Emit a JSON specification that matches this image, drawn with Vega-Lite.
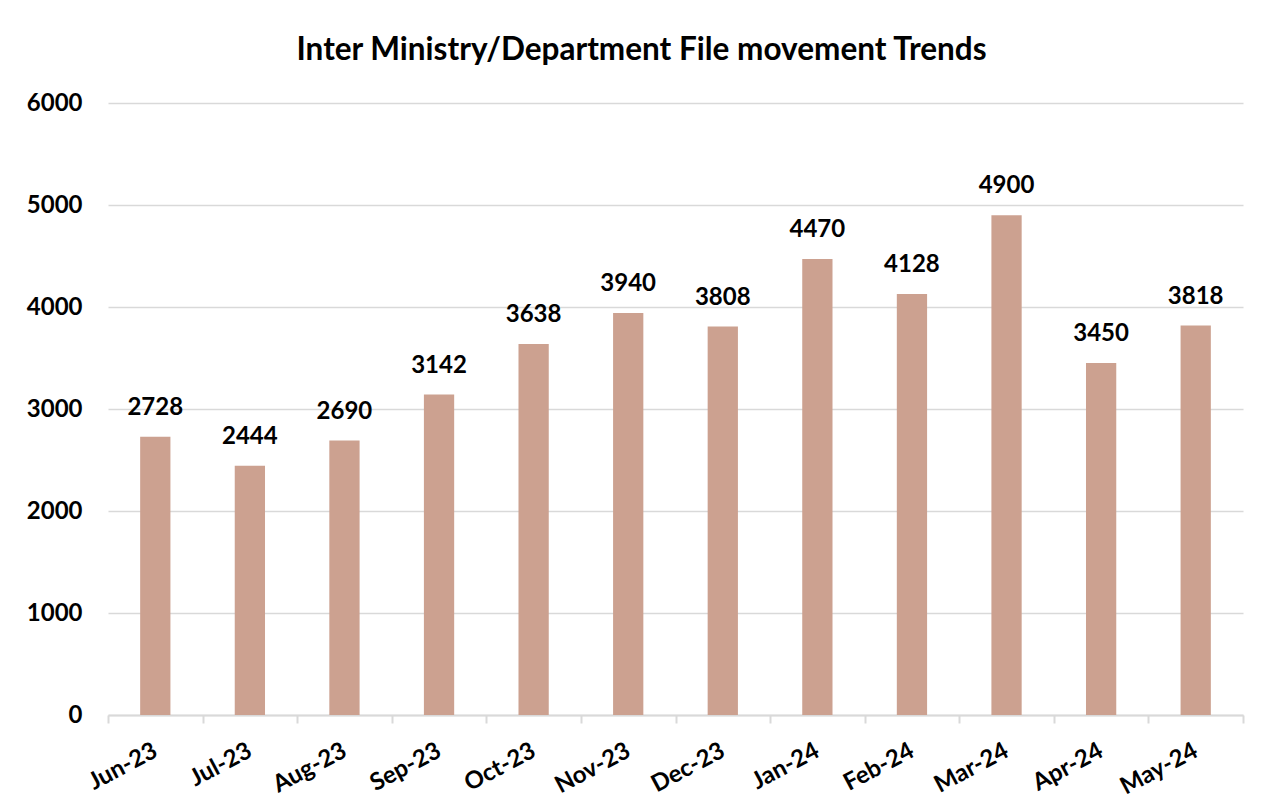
{
  "$schema": "https://vega.github.io/schema/vega-lite/v6.json",
  "autosize": "none",
  "width": 1135,
  "height": 612,
  "padding": {"left": 108, "top": 103, "right": 29, "bottom": 97},
  "background": "white",
  "title": {
    "text": "Inter Ministry/Department File movement Trends",
    "font": "Lato",
    "fontWeight": "bold",
    "fontSize": 31.5,
    "color": "black",
    "anchor": "middle",
    "dx": -34,
    "offset": 25
  },
  "data": {
    "values": [
      {"month": "Jun-23", "files": 2728},
      {"month": "Jul-23", "files": 2444},
      {"month": "Aug-23", "files": 2690},
      {"month": "Sep-23", "files": 3142},
      {"month": "Oct-23", "files": 3638},
      {"month": "Nov-23", "files": 3940},
      {"month": "Dec-23", "files": 3808},
      {"month": "Jan-24", "files": 4470},
      {"month": "Feb-24", "files": 4128},
      {"month": "Mar-24", "files": 4900},
      {"month": "Apr-24", "files": 3450},
      {"month": "May-24", "files": 3818}
    ]
  },
  "encoding": {
    "x": {
      "field": "month",
      "type": "nominal",
      "sort": null,
      "scale": {"paddingInner": 0, "paddingOuter": 0},
      "axis": {
        "title": null,
        "labelAngle": -28,
        "labelAlign": "right",
        "labelBaseline": "middle",
        "labelFont": "Lato",
        "labelFontWeight": "bold",
        "labelFontSize": 24,
        "labelColor": "black",
        "labelPadding": 26,
        "tickBand": "extent",
        "tickSize": 8,
        "tickColor": "#d9d9d9",
        "tickWidth": 2,
        "domainColor": "#d9d9d9",
        "domainWidth": 2,
        "grid": false
      }
    },
    "y": {
      "field": "files",
      "type": "quantitative",
      "scale": {"domain": [0, 6000]},
      "axis": {
        "title": null,
        "format": "d",
        "values": [0, 1000, 2000, 3000, 4000, 5000, 6000],
        "labelFont": "Lato",
        "labelFontWeight": "bold",
        "labelFontSize": 24,
        "labelColor": "black",
        "labelPadding": 26,
        "ticks": false,
        "domain": false,
        "grid": true,
        "gridColor": "#d9d9d9",
        "gridWidth": 1.5
      }
    }
  },
  "layer": [
    {"mark": {"type": "bar", "color": "#CCA190", "width": {"band": 0.32}}},
    {
      "mark": {
        "type": "text",
        "baseline": "bottom",
        "dy": -17,
        "font": "Lato",
        "fontWeight": "bold",
        "fontSize": 24,
        "color": "black"
      },
      "encoding": {"text": {"field": "files", "type": "quantitative", "format": "d"}}
    }
  ],
  "config": {"view": {"stroke": null}}
}
